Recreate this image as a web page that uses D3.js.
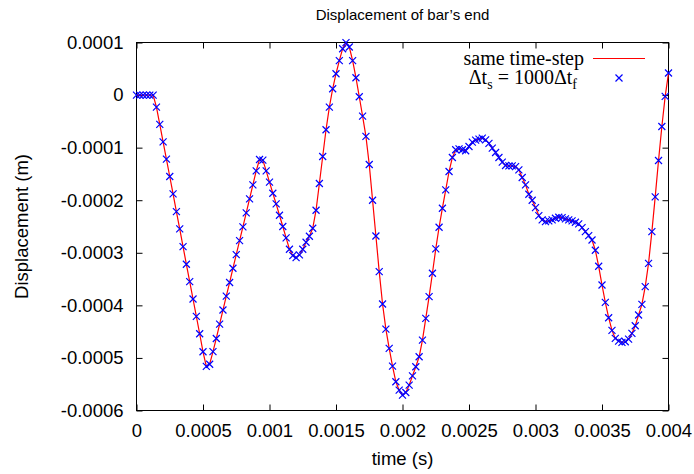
<!DOCTYPE html>
<html>
<head>
<meta charset="utf-8">
<script src="https://cdn.jsdelivr.net/npm/d3@7"></script>
<style>
  body { margin: 0; background: #fff; }
  svg { display: block; }
  .tick text { font-family: "Liberation Sans", Arial, Helvetica, sans-serif; font-size: 18.5px; fill: #000; }
  .tick line { stroke: #000; }
</style>
</head>
<body>
<div id="chart"></div>
<script>
// time step between samples (s) and displacement (micrometres)
const dt = 0.000025;
const displacement = [
  0, 0, 0, 0, 0, 0, -22.9, -55.8, -88.9, -121.9,
  -154.9, -188, -221.6, -254.6, -288.3, -321.9, -354.9, -387.9, -421, -454,
  -488.3, -516.2, -512, -488, -463, -435.6, -408.9, -382.3, -356.6, -329.5,
  -303.5, -276.8, -250.8, -224.2, -197.5, -170.8, -144.1, -122.5, -123.8, -144.1,
  -165.7, -186.7, -207, -228.6, -250, -271.7, -293.3, -305.4, -309.2, -304.1,
  -293.3, -280, -268.6, -253.3, -219, -168.3, -116.8, -66, -22.9, 12,
  40.6, 65.4, 88.2, 99.7, 91.4, 65.4, 33, -3.2, -40, -78.7,
  -132, -200, -268, -335.8, -397.5, -445.1, -481.9, -515.6, -545.4, -561.3,
  -570.8, -565.7, -551.8, -534, -516.8, -497.8, -466, -424.8, -383.5, -339,
  -292.7, -251.4, -215.2, -180.3, -145.4, -118.7, -104.1, -102.2, -104.1, -106,
  -97.8, -89.5, -85.7, -83.8, -81.9, -85.1, -92, -101, -109.2, -118.7,
  -127.6, -134, -134.6, -134.6, -136, -142.2, -156.8, -170.8, -188.6, -200,
  -214, -229.2, -237.5, -240.6, -239.4, -237.5, -234.3, -232.4, -233, -235.6,
  -237.5, -239.4, -241.9, -245.1, -252, -259.7, -267.3, -275.6, -295.2, -325.7,
  -361.3, -394.3, -423.5, -447.6, -462.9, -467.9, -470.5, -469.2, -464.1, -453.3,
  -438.7, -418.4, -398.1, -364.4, -320, -259.7, -193.7, -124.4, -59.7, -2.5,
  41.9
];

const xTicks = [0, 0.0005, 0.001, 0.0015, 0.002, 0.0025, 0.003, 0.0035, 0.004];
const xTickLabels = ["0", "0.0005", "0.001", "0.0015", "0.002", "0.0025", "0.003", "0.0035", "0.004"];
const yTicks = [0.0001, 0, -0.0001, -0.0002, -0.0003, -0.0004, -0.0005, -0.0006];
const yTickLabels = ["0.0001", "0", "-0.0001", "-0.0002", "-0.0003", "-0.0004", "-0.0005", "-0.0006"];

const W = 694, H = 474;
const plotLeft = 136.5, plotRight = 668.5, plotTop = 42.5, plotBottom = 410.5;

const points = displacement.map((d, i) => ({ t: i * dt, d: d * 1e-6 }));

const x = d3.scaleLinear().domain([0, 0.004]).range([plotLeft, plotRight]);
const y = d3.scaleLinear().domain([-0.0006, 0.0001]).range([plotBottom, plotTop]);

const svg = d3.select("#chart").append("svg")
    .attr("width", W)
    .attr("height", H);

svg.append("rect").attr("width", W).attr("height", H).attr("fill", "#fff");

// axes, ticks pointing inward on all four sides
svg.append("g")
    .attr("transform", "translate(0," + plotBottom + ")")
    .call(d3.axisBottom(x).tickValues(xTicks)
        .tickFormat((d, i) => xTickLabels[i])
        .tickSize(-6).tickPadding(13))
    .call(g => g.select(".domain").remove());

svg.append("g")
    .attr("transform", "translate(0," + plotTop + ")")
    .call(d3.axisTop(x).tickValues(xTicks).tickFormat("").tickSize(-6))
    .call(g => g.select(".domain").remove());

svg.append("g")
    .attr("transform", "translate(" + plotLeft + ",0)")
    .call(d3.axisLeft(y).tickValues(yTicks)
        .tickFormat((d, i) => yTickLabels[i])
        .tickSize(-6).tickPadding(13))
    .call(g => g.select(".domain").remove());

svg.append("g")
    .attr("transform", "translate(" + plotRight + ",0)")
    .call(d3.axisRight(y).tickValues(yTicks).tickFormat("").tickSize(-6))
    .call(g => g.select(".domain").remove());

// frame
svg.append("rect")
    .attr("x", plotLeft).attr("y", plotTop)
    .attr("width", plotRight - plotLeft).attr("height", plotBottom - plotTop)
    .attr("fill", "none").attr("stroke", "#000").attr("stroke-width", 1);

// same time-step curve
const line = d3.line().x(p => x(p.t)).y(p => y(p.d));
svg.append("path")
    .datum(points)
    .attr("d", line)
    .attr("fill", "none")
    .attr("stroke", "#ff0000")
    .attr("stroke-width", 1.2);

// large solid time-step samples
const cross = "M-3.5,-3.5L3.5,3.5M-3.5,3.5L3.5,-3.5";
svg.append("g").selectAll("path")
    .data(points)
    .join("path")
    .attr("transform", p => "translate(" + x(p.t) + "," + y(p.d) + ")")
    .attr("d", cross)
    .attr("fill", "none")
    .attr("stroke", "#0000ff")
    .attr("stroke-width", 1.2);

// titles
const sans = "'Liberation Sans', Arial, Helvetica, sans-serif";
svg.append("text")
    .attr("x", (plotLeft + plotRight) / 2).attr("y", 20)
    .attr("text-anchor", "middle")
    .style("font-family", sans).style("font-size", "15px")
    .text("Displacement of bar\u2019s end");

svg.append("text")
    .attr("x", (plotLeft + plotRight) / 2).attr("y", 465)
    .attr("text-anchor", "middle")
    .style("font-family", sans).style("font-size", "18.5px")
    .text("time (s)");

svg.append("text")
    .attr("transform", "translate(28," + ((plotTop + plotBottom) / 2) + ") rotate(-90)")
    .attr("text-anchor", "middle")
    .style("font-family", sans).style("font-size", "18.5px")
    .text("Displacement (m)");

// legend
const serif = "'Liberation Serif', 'Times New Roman', serif";
const legend = svg.append("g").style("font-family", serif).style("font-size", "20px");

legend.append("text")
    .attr("x", 584).attr("y", 65)
    .attr("text-anchor", "end")
    .text("same time-step");
legend.append("line")
    .attr("x1", 593).attr("x2", 645)
    .attr("y1", 58.5).attr("y2", 58.5)
    .attr("stroke", "#ff0000").attr("stroke-width", 1.2);

const t2 = legend.append("text")
    .attr("x", 577).attr("y", 84)
    .attr("text-anchor", "end");
t2.append("tspan").text("\u0394t");
t2.append("tspan").attr("dy", 5).style("font-size", "14px").text("s");
t2.append("tspan").attr("dy", -5).text(" = 1000\u0394t");
t2.append("tspan").attr("dy", 5).style("font-size", "14px").text("f");

legend.append("path")
    .attr("transform", "translate(619,78)")
    .attr("d", cross)
    .attr("fill", "none")
    .attr("stroke", "#0000ff")
    .attr("stroke-width", 1.2);
</script>
</body>
</html>
